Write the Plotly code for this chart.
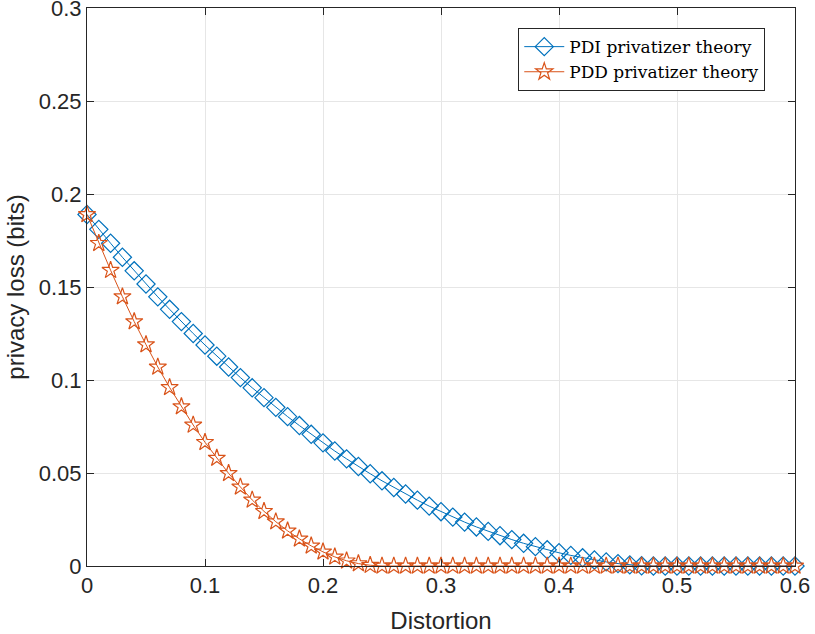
import plotly.graph_objects as go

# Distortion grid (0 .. 0.6 in steps of 0.01)
distortion = [round(i * 0.01, 2) for i in range(61)]

# PDI privatizer theory
pdi_loss = [
    0.1890, 0.1810, 0.1735, 0.1660, 0.1587, 0.1516, 0.1447, 0.1380, 0.1314, 0.1250,
    0.1188, 0.1128, 0.1070, 0.1013, 0.0958, 0.0905, 0.0853, 0.0803, 0.0755, 0.0708,
    0.0662, 0.0618, 0.0576, 0.0535, 0.0496, 0.0458, 0.0422, 0.0387, 0.0354, 0.0322,
    0.0292, 0.0263, 0.0236, 0.0210, 0.0186, 0.0163, 0.0142, 0.0122, 0.0104, 0.0087,
    0.0071, 0.0057, 0.0044, 0.0032, 0.0022, 0.0013, 0.0006, 0.0001, 0.0, 0.0,
    0.0, 0.0, 0.0, 0.0, 0.0, 0.0, 0.0, 0.0, 0.0, 0.0,
    0.0,
]

# PDD privatizer theory
pdd_loss = [
    0.1890, 0.1735, 0.1590, 0.1448, 0.1314, 0.1190, 0.1070, 0.0960, 0.0857, 0.0758,
    0.0665, 0.0580, 0.0498, 0.0425, 0.0355, 0.0294, 0.0238, 0.0189, 0.0146, 0.0108,
    0.0076, 0.0049, 0.0028, 0.0013, 0.0004, 0.0, 0.0, 0.0, 0.0, 0.0,
    0.0, 0.0, 0.0, 0.0, 0.0, 0.0, 0.0, 0.0, 0.0, 0.0,
    0.0, 0.0, 0.0, 0.0, 0.0, 0.0, 0.0, 0.0, 0.0, 0.0,
    0.0, 0.0, 0.0, 0.0, 0.0, 0.0, 0.0, 0.0, 0.0, 0.0,
    0.0,
]

x_ticks = [0, 0.1, 0.2, 0.3, 0.4, 0.5, 0.6]
x_labels = ['0', '0.1', '0.2', '0.3', '0.4', '0.5', '0.6']
y_ticks = [0, 0.05, 0.1, 0.15, 0.2, 0.25, 0.3]
y_labels = ['0', '0.05', '0.1', '0.15', '0.2', '0.25', '0.3']

blue = '#0072BD'
orange = '#D95319'
axis_col = '#262626'
grid_col = '#E6E6E6'

fig = go.Figure()
fig.add_trace(go.Scatter(
    x=distortion, y=pdi_loss, mode='lines+markers', name='PDI privatizer theory',
    line=dict(color=blue, width=1),
    marker=dict(symbol='diamond-open', size=14, color=blue, line=dict(width=1.2)),
    cliponaxis=False,
))
fig.add_trace(go.Scatter(
    x=distortion, y=pdd_loss, mode='lines+markers', name='PDD privatizer theory',
    line=dict(color=orange, width=1),
    marker=dict(symbol='star-open', size=13, color=orange, line=dict(width=1.2)),
    cliponaxis=False,
))

fig.update_layout(
    width=815, height=634,
    margin=dict(l=87, r=20, t=8, b=68),
    paper_bgcolor='white', plot_bgcolor='white',
    font=dict(family='Liberation Sans, Arial, sans-serif', size=22, color=axis_col),
    showlegend=True,
    legend=dict(
        x=0.958, y=0.964, xanchor='right', yanchor='top',
        bgcolor='white', bordercolor=axis_col, borderwidth=1,
        font=dict(family='DejaVu Serif, Liberation Serif, serif', size=17, color='black'),
        tracegroupgap=0, itemwidth=40,
    ),
)

fig.update_xaxes(
    range=[0, 0.6], tickvals=x_ticks, ticktext=x_labels,
    ticklabeloverflow='allow', automargin=False,
    title=dict(text='Distortion', font=dict(size=24), standoff=14),
    showline=True, linecolor=axis_col, linewidth=1, mirror='ticks',
    ticks='inside', ticklen=7, tickcolor=axis_col,
    showgrid=True, gridcolor=grid_col, gridwidth=1, zeroline=False,
)
fig.update_yaxes(
    range=[0, 0.3], tickvals=y_ticks, ticktext=y_labels,
    ticklabeloverflow='allow', automargin=False,
    title=dict(text='privacy loss (bits)', font=dict(size=24), standoff=7),
    showline=True, linecolor=axis_col, linewidth=1, mirror='ticks',
    ticks='inside', ticklen=7, tickcolor=axis_col,
    showgrid=True, gridcolor=grid_col, gridwidth=1, zeroline=False,
)

# drop the default body margin so the figure sits at the window corner
fig.write_html('out.html', config={'displayModeBar': False},
               post_script="document.body.style.margin='0px';")
